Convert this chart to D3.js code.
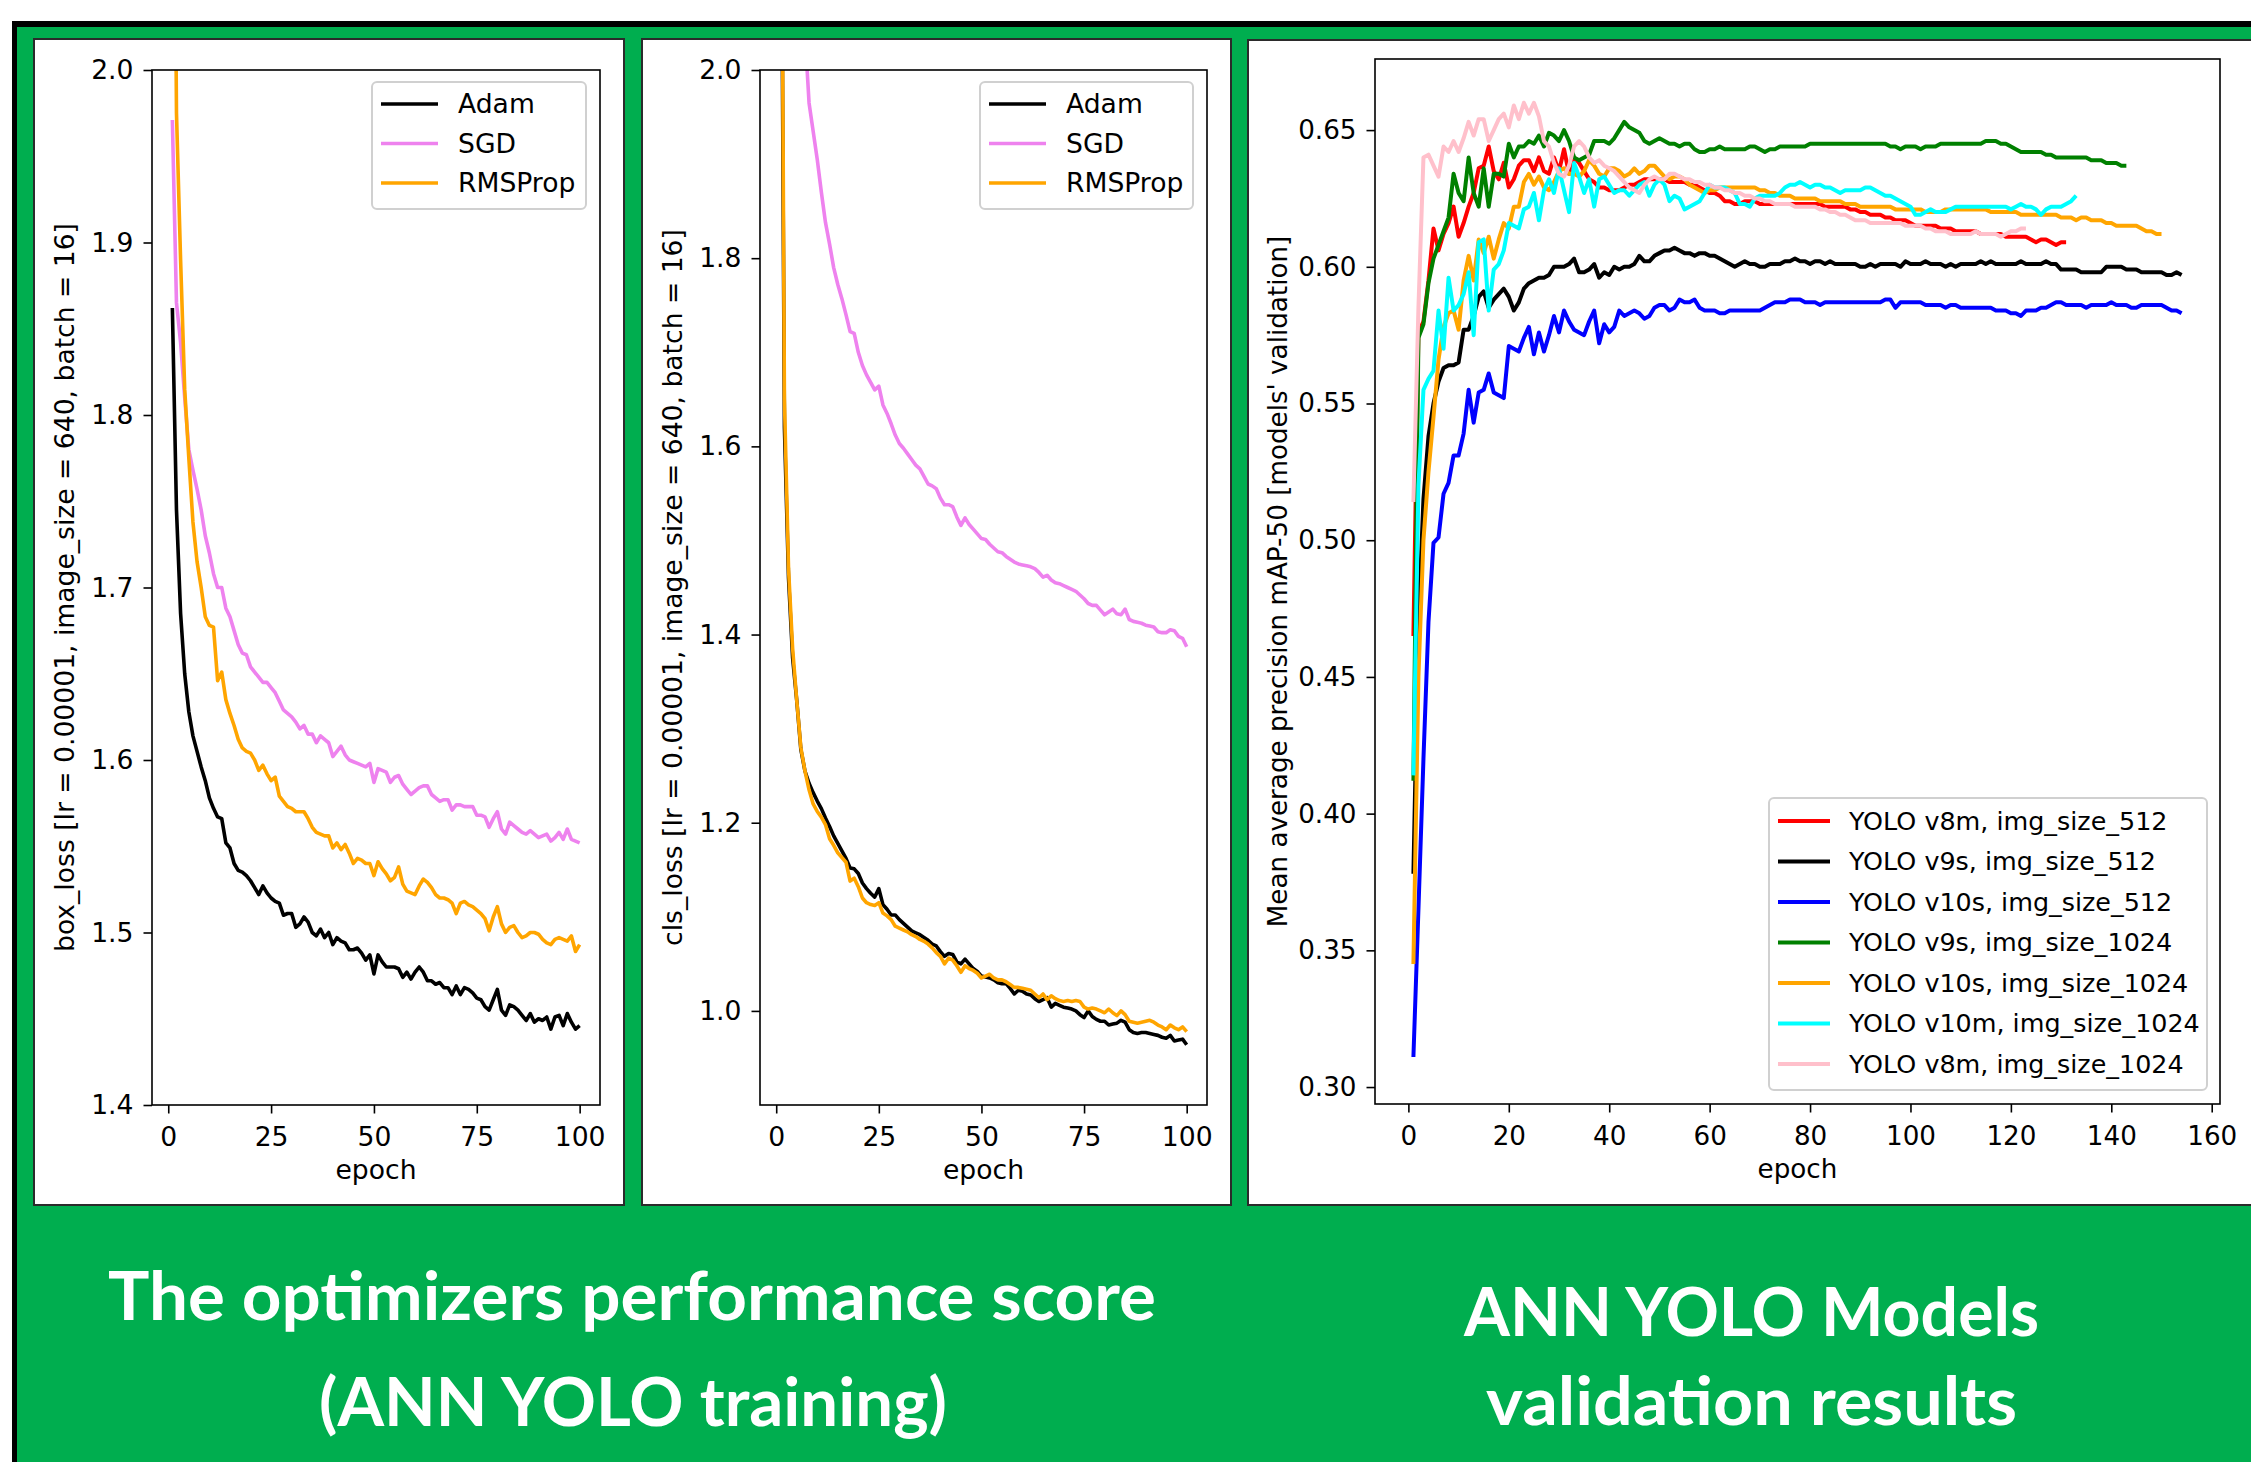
<!DOCTYPE html>

<head>
  <meta charset="utf-8">
  <title>Optimizers performance and YOLO validation</title>
  <style>
    body { margin: 0; background: #fff; }
    .line { fill: none; stroke-linejoin: round; }
    .title { font-family: Lato, 'Open Sans', sans-serif; font-weight: 700; fill: #fff; }
  </style>
</head>

<body>
  <div id="figure"></div>

  <script src="https://d3js.org/d3.v7.min.js"></script>

  <script>
    // optimizer runs, one value per epoch starting at epoch 1
    let optimizers = ['Adam', 'SGD', 'RMSProp'];
    let optColors = ['black', 'violet', 'orange'];

    let boxAdam = [1.862, 1.745, 1.685, 1.650, 1.628, 1.614, 1.605, 1.596, 1.588, 1.578,
      1.572, 1.567, 1.566, 1.552, 1.549, 1.540, 1.536, 1.535, 1.533, 1.530,
      1.526, 1.522, 1.527, 1.523, 1.520, 1.518, 1.517, 1.510, 1.511, 1.511,
      1.503, 1.505, 1.509, 1.506, 1.500, 1.498, 1.502, 1.497, 1.500, 1.493,
      1.497, 1.495, 1.494, 1.490, 1.490, 1.491, 1.488, 1.484, 1.487, 1.476,
      1.487, 1.483, 1.480, 1.480, 1.480, 1.479, 1.474, 1.477, 1.473, 1.477,
      1.480, 1.477, 1.472, 1.472, 1.470, 1.471, 1.468, 1.468, 1.464, 1.469,
      1.464, 1.468, 1.467, 1.465, 1.462, 1.461, 1.457, 1.455, 1.461, 1.467,
      1.455, 1.452, 1.458, 1.457, 1.455, 1.452, 1.449, 1.453, 1.448, 1.450,
      1.449, 1.451, 1.444, 1.451, 1.452, 1.446, 1.453, 1.448, 1.444, 1.446];
    let boxSgd = [1.971, 1.865, 1.842, 1.810, 1.780, 1.768, 1.757, 1.745, 1.730, 1.720,
      1.708, 1.700, 1.700, 1.688, 1.683, 1.675, 1.667, 1.662, 1.661, 1.654,
      1.651, 1.648, 1.645, 1.645, 1.642, 1.639, 1.634, 1.629, 1.627, 1.625,
      1.622, 1.618, 1.620, 1.615, 1.615, 1.610, 1.614, 1.612, 1.610, 1.602,
      1.605, 1.608, 1.603, 1.600, 1.599, 1.598, 1.597, 1.596, 1.598, 1.587,
      1.595, 1.594, 1.593, 1.587, 1.590, 1.591, 1.586, 1.583, 1.580, 1.582,
      1.584, 1.585, 1.585, 1.580, 1.578, 1.576, 1.577, 1.577, 1.571, 1.574,
      1.574, 1.573, 1.573, 1.573, 1.568, 1.568, 1.567, 1.561, 1.566, 1.570,
      1.560, 1.557, 1.564, 1.562, 1.560, 1.558, 1.557, 1.559, 1.557, 1.555,
      1.556, 1.557, 1.553, 1.555, 1.558, 1.554, 1.560, 1.554, 1.553, 1.552];
    let boxRms = [2.300, 1.975, 1.890, 1.815, 1.775, 1.738, 1.715, 1.700, 1.683, 1.678,
      1.677, 1.646, 1.651, 1.635, 1.627, 1.620, 1.612, 1.607, 1.605, 1.604,
      1.600, 1.594, 1.597, 1.592, 1.588, 1.590, 1.579, 1.576, 1.573, 1.572,
      1.570, 1.570, 1.570, 1.566, 1.561, 1.558, 1.557, 1.556, 1.556, 1.549,
      1.552, 1.548, 1.551, 1.546, 1.540, 1.543, 1.542, 1.540, 1.540, 1.533,
      1.541, 1.537, 1.534, 1.530, 1.532, 1.538, 1.528, 1.524, 1.523, 1.522,
      1.527, 1.531, 1.529, 1.526, 1.522, 1.520, 1.520, 1.519, 1.517, 1.511,
      1.517, 1.518, 1.516, 1.515, 1.513, 1.511, 1.508, 1.501, 1.509, 1.515,
      1.505, 1.500, 1.503, 1.504, 1.500, 1.497, 1.498, 1.500, 1.500, 1.499,
      1.496, 1.494, 1.493, 1.496, 1.497, 1.496, 1.495, 1.498, 1.489, 1.493];

    let clsAdam = [2.400, 1.620, 1.460, 1.375, 1.330, 1.278, 1.255, 1.242, 1.232, 1.223,
      1.215, 1.205, 1.196, 1.186, 1.178, 1.170, 1.162, 1.152, 1.151, 1.146,
      1.136, 1.130, 1.125, 1.121, 1.130, 1.113, 1.108, 1.102, 1.102, 1.097,
      1.093, 1.089, 1.085, 1.083, 1.081, 1.078, 1.075, 1.071, 1.069, 1.063,
      1.058, 1.061, 1.060, 1.052, 1.050, 1.055, 1.050, 1.045, 1.042, 1.037,
      1.036, 1.035, 1.033, 1.030, 1.029, 1.029, 1.024, 1.018, 1.022, 1.021,
      1.018, 1.017, 1.013, 1.010, 1.012, 1.014, 1.004, 1.008, 1.006, 1.004,
      1.003, 1.002, 1.000, 0.996, 0.993, 1.000, 0.994, 0.991, 0.989, 0.989,
      0.985, 0.986, 0.987, 0.990, 0.988, 0.980, 0.977, 0.976, 0.977, 0.977,
      0.976, 0.975, 0.974, 0.972, 0.971, 0.974, 0.968, 0.969, 0.970, 0.964];
    let clsSgd = [3.200, 2.800, 2.500, 2.320, 2.200, 2.110, 2.040, 1.965, 1.935, 1.905,
      1.870, 1.838, 1.815, 1.790, 1.772, 1.757, 1.740, 1.722, 1.720, 1.700,
      1.686, 1.676, 1.668, 1.660, 1.664, 1.644, 1.635, 1.624, 1.612, 1.603,
      1.598, 1.592, 1.586, 1.580, 1.576, 1.568, 1.560, 1.558, 1.555, 1.545,
      1.538, 1.538, 1.536, 1.525, 1.516, 1.524, 1.517, 1.512, 1.507, 1.502,
      1.501, 1.496, 1.492, 1.488, 1.487, 1.483, 1.480, 1.477, 1.475, 1.474,
      1.473, 1.472, 1.470, 1.466, 1.461, 1.463, 1.458, 1.455, 1.454, 1.452,
      1.450, 1.448, 1.446, 1.442, 1.438, 1.433, 1.431, 1.431, 1.426, 1.421,
      1.424, 1.427, 1.422, 1.421, 1.427, 1.416, 1.414, 1.413, 1.412, 1.410,
      1.409, 1.408, 1.403, 1.402, 1.402, 1.405, 1.404, 1.398, 1.396, 1.387];
    let clsRms = [2.500, 1.650, 1.470, 1.385, 1.330, 1.280, 1.255, 1.235, 1.220, 1.212,
      1.206, 1.198, 1.183, 1.176, 1.168, 1.163, 1.158, 1.138, 1.141, 1.132,
      1.120, 1.115, 1.113, 1.112, 1.115, 1.104, 1.101, 1.097, 1.090, 1.088,
      1.086, 1.084, 1.081, 1.079, 1.076, 1.074, 1.071, 1.067, 1.062, 1.058,
      1.050, 1.056, 1.054, 1.048, 1.041, 1.048, 1.045, 1.043, 1.040, 1.035,
      1.037, 1.039, 1.035, 1.033, 1.033, 1.031, 1.028, 1.025, 1.025, 1.024,
      1.023, 1.022, 1.018, 1.014, 1.018, 1.012, 1.016, 1.013, 1.011, 1.010,
      1.011, 1.010, 1.011, 1.010, 1.004, 1.002, 1.003, 1.002, 1.000, 0.998,
      1.002, 0.998, 0.995, 1.000, 0.996, 0.989, 0.988, 0.987, 0.988, 0.989,
      0.990, 0.988, 0.985, 0.983, 0.980, 0.985, 0.982, 0.980, 0.983, 0.978];

    // YOLO validation mAP-50, one value per epoch starting at epoch 1
    let models = ['YOLO v8m, img_size_512', 'YOLO v9s, img_size_512', 'YOLO v10s, img_size_512',
      'YOLO v9s, img_size_1024', 'YOLO v10s, img_size_1024', 'YOLO v10m, img_size_1024', 'YOLO v8m, img_size_1024'];
    let modelColors = ['red', 'black', 'blue', 'green', 'orange', 'cyan', 'pink'];

    let v8m512 = [0.465, 0.576, 0.580, 0.595, 0.614, 0.606, 0.612, 0.616, 0.622, 0.611,
      0.616, 0.622, 0.627, 0.636, 0.637, 0.644, 0.635, 0.632, 0.638, 0.629,
      0.632, 0.637, 0.639, 0.639, 0.635, 0.640, 0.635, 0.634, 0.640, 0.635,
      0.643, 0.634, 0.640, 0.638, 0.635, 0.632, 0.631, 0.629, 0.629, 0.628,
      0.628, 0.628, 0.629, 0.630, 0.630, 0.631, 0.632, 0.632, 0.632, 0.632,
      0.632, 0.631, 0.631, 0.631, 0.631, 0.630, 0.630, 0.629, 0.628, 0.627,
      0.627, 0.626, 0.624, 0.624, 0.623, 0.623, 0.624, 0.624, 0.624, 0.623,
      0.623, 0.623, 0.623, 0.623, 0.623, 0.623, 0.623, 0.623, 0.623, 0.623,
      0.623, 0.623, 0.622, 0.622, 0.622, 0.622, 0.622, 0.621, 0.621, 0.620,
      0.620, 0.619, 0.619, 0.619, 0.618, 0.618, 0.617, 0.617, 0.617, 0.616,
      0.615, 0.615, 0.615, 0.615, 0.615, 0.614, 0.614, 0.614, 0.613, 0.613,
      0.613, 0.613, 0.613, 0.612, 0.612, 0.612, 0.612, 0.612, 0.611, 0.611,
      0.611, 0.611, 0.611, 0.610, 0.609, 0.610, 0.610, 0.609, 0.608, 0.609,
      0.609];
    let v9s512 = [0.378, 0.470, 0.515, 0.538, 0.550, 0.558, 0.563, 0.564, 0.564, 0.565,
      0.577, 0.577, 0.582, 0.589, 0.591, 0.585, 0.588, 0.590, 0.592, 0.589,
      0.584, 0.587, 0.592, 0.594, 0.595, 0.596, 0.596, 0.597, 0.600, 0.600,
      0.600, 0.601, 0.603, 0.598, 0.598, 0.599, 0.601, 0.596, 0.598, 0.597,
      0.600, 0.599, 0.600, 0.600, 0.601, 0.604, 0.602, 0.602, 0.604, 0.605,
      0.606, 0.606, 0.607, 0.606, 0.605, 0.605, 0.604, 0.605, 0.605, 0.604,
      0.604, 0.603, 0.602, 0.601, 0.600, 0.601, 0.602, 0.601, 0.601, 0.600,
      0.600, 0.601, 0.601, 0.601, 0.602, 0.602, 0.603, 0.602, 0.602, 0.601,
      0.602, 0.602, 0.601, 0.602, 0.601, 0.601, 0.601, 0.601, 0.601, 0.600,
      0.600, 0.601, 0.600, 0.601, 0.601, 0.601, 0.601, 0.600, 0.602, 0.601,
      0.601, 0.601, 0.602, 0.601, 0.601, 0.601, 0.600, 0.601, 0.600, 0.601,
      0.601, 0.601, 0.601, 0.602, 0.601, 0.602, 0.601, 0.601, 0.601, 0.601,
      0.601, 0.602, 0.601, 0.601, 0.601, 0.601, 0.602, 0.601, 0.601, 0.599,
      0.599, 0.599, 0.599, 0.598, 0.598, 0.598, 0.598, 0.598, 0.600, 0.600,
      0.600, 0.600, 0.599, 0.599, 0.599, 0.598, 0.598, 0.598, 0.598, 0.598,
      0.597, 0.597, 0.598, 0.597];
    let v10s512 = [0.311, 0.365, 0.420, 0.470, 0.499, 0.501, 0.517, 0.521, 0.531, 0.531,
      0.539, 0.555, 0.543, 0.554, 0.555, 0.561, 0.554, 0.553, 0.552, 0.571,
      0.570, 0.569, 0.574, 0.578, 0.568, 0.576, 0.569, 0.575, 0.582, 0.576,
      0.584, 0.580, 0.577, 0.576, 0.575, 0.580, 0.584, 0.572, 0.579, 0.576,
      0.578, 0.584, 0.582, 0.583, 0.584, 0.583, 0.581, 0.582, 0.585, 0.586,
      0.586, 0.584, 0.585, 0.588, 0.587, 0.587, 0.588, 0.585, 0.584, 0.584,
      0.584, 0.583, 0.583, 0.584, 0.584, 0.584, 0.584, 0.584, 0.584, 0.584,
      0.585, 0.586, 0.587, 0.587, 0.587, 0.588, 0.588, 0.588, 0.587, 0.587,
      0.587, 0.586, 0.587, 0.587, 0.587, 0.587, 0.587, 0.587, 0.587, 0.587,
      0.587, 0.587, 0.587, 0.587, 0.588, 0.588, 0.585, 0.587, 0.587, 0.587,
      0.587, 0.587, 0.586, 0.586, 0.586, 0.586, 0.585, 0.586, 0.586, 0.585,
      0.585, 0.585, 0.585, 0.585, 0.585, 0.585, 0.584, 0.584, 0.584, 0.583,
      0.583, 0.582, 0.584, 0.584, 0.584, 0.585, 0.585, 0.586, 0.587, 0.587,
      0.586, 0.586, 0.586, 0.586, 0.585, 0.586, 0.586, 0.586, 0.586, 0.587,
      0.586, 0.586, 0.586, 0.585, 0.585, 0.586, 0.586, 0.586, 0.586, 0.586,
      0.585, 0.584, 0.584, 0.583];
    let v9s1024 = [0.412, 0.574, 0.579, 0.594, 0.603, 0.608, 0.613, 0.618, 0.634, 0.627,
      0.624, 0.640, 0.627, 0.622, 0.636, 0.622, 0.634, 0.634, 0.633, 0.645,
      0.640, 0.644, 0.644, 0.646, 0.645, 0.648, 0.644, 0.649, 0.648, 0.646,
      0.650, 0.646, 0.640, 0.639, 0.640, 0.641, 0.646, 0.646, 0.646, 0.645,
      0.647, 0.650, 0.653, 0.651, 0.650, 0.649, 0.646, 0.645, 0.646, 0.647,
      0.646, 0.645, 0.645, 0.644, 0.645, 0.645, 0.643, 0.642, 0.642, 0.643,
      0.643, 0.644, 0.643, 0.643, 0.643, 0.643, 0.643, 0.644, 0.644, 0.643,
      0.642, 0.643, 0.643, 0.644, 0.644, 0.644, 0.644, 0.644, 0.644, 0.645,
      0.645, 0.645, 0.645, 0.645, 0.645, 0.645, 0.645, 0.645, 0.645, 0.645,
      0.645, 0.645, 0.645, 0.645, 0.645, 0.644, 0.644, 0.643, 0.644, 0.644,
      0.644, 0.643, 0.644, 0.644, 0.644, 0.645, 0.645, 0.645, 0.645, 0.645,
      0.645, 0.645, 0.645, 0.645, 0.646, 0.646, 0.646, 0.645, 0.645, 0.644,
      0.643, 0.642, 0.642, 0.642, 0.642, 0.642, 0.641, 0.641, 0.640, 0.640,
      0.640, 0.640, 0.640, 0.640, 0.640, 0.639, 0.639, 0.639, 0.638, 0.638,
      0.638, 0.637, 0.637];
    let v10s1024 = [0.345, 0.450, 0.500, 0.525, 0.545, 0.566, 0.578, 0.583, 0.584, 0.577,
      0.595, 0.604, 0.595, 0.610, 0.605, 0.611, 0.603, 0.610, 0.616, 0.614,
      0.622, 0.622, 0.631, 0.634, 0.630, 0.633, 0.629, 0.628, 0.631, 0.635,
      0.636, 0.634, 0.634, 0.633, 0.635, 0.639, 0.637, 0.634, 0.633, 0.636,
      0.636, 0.635, 0.633, 0.634, 0.636, 0.634, 0.635, 0.637, 0.637, 0.635,
      0.633, 0.632, 0.633, 0.633, 0.632, 0.630, 0.629, 0.628, 0.627, 0.628,
      0.628, 0.629, 0.629, 0.629, 0.629, 0.629, 0.629, 0.629, 0.629, 0.628,
      0.628, 0.627, 0.627, 0.626, 0.626, 0.626, 0.625, 0.625, 0.625, 0.625,
      0.625, 0.624, 0.624, 0.624, 0.624, 0.624, 0.623, 0.623, 0.623, 0.622,
      0.622, 0.622, 0.622, 0.622, 0.622, 0.622, 0.621, 0.621, 0.621, 0.621,
      0.621, 0.621, 0.620, 0.620, 0.620, 0.620, 0.621, 0.621, 0.621, 0.621,
      0.621, 0.621, 0.621, 0.621, 0.621, 0.620, 0.620, 0.620, 0.620, 0.620,
      0.620, 0.619, 0.619, 0.619, 0.619, 0.619, 0.619, 0.619, 0.619, 0.618,
      0.618, 0.618, 0.617, 0.618, 0.618, 0.617, 0.617, 0.617, 0.616, 0.616,
      0.615, 0.615, 0.615, 0.615, 0.615, 0.614, 0.613, 0.613, 0.612, 0.612];
    let v10m1024 = [0.414, 0.520, 0.555, 0.559, 0.562, 0.584, 0.570, 0.596, 0.584, 0.586,
      0.590, 0.598, 0.575, 0.609, 0.610, 0.584, 0.599, 0.601, 0.606, 0.616,
      0.615, 0.614, 0.621, 0.622, 0.627, 0.617, 0.628, 0.632, 0.627, 0.636,
      0.628, 0.620, 0.638, 0.633, 0.627, 0.632, 0.622, 0.632, 0.633, 0.630,
      0.627, 0.628, 0.628, 0.626, 0.628, 0.630, 0.631, 0.626, 0.630, 0.632,
      0.630, 0.624, 0.626, 0.625, 0.621, 0.622, 0.623, 0.624, 0.627, 0.630,
      0.629, 0.629, 0.629, 0.628, 0.627, 0.623, 0.623, 0.622, 0.625, 0.626,
      0.626, 0.626, 0.626, 0.627, 0.629, 0.630, 0.630, 0.631, 0.630, 0.629,
      0.630, 0.630, 0.629, 0.629, 0.628, 0.627, 0.628, 0.628, 0.628, 0.628,
      0.629, 0.629, 0.628, 0.627, 0.626, 0.626, 0.625, 0.624, 0.623, 0.622,
      0.619, 0.619, 0.620, 0.621, 0.620, 0.620, 0.620, 0.621, 0.622, 0.622,
      0.622, 0.622, 0.622, 0.622, 0.622, 0.622, 0.622, 0.622, 0.622, 0.621,
      0.622, 0.623, 0.622, 0.622, 0.621, 0.619, 0.621, 0.622, 0.622, 0.622,
      0.623, 0.624, 0.626];
    let v8m1024 = [0.514, 0.585, 0.640, 0.641, 0.637, 0.633, 0.644, 0.642, 0.646, 0.642,
      0.647, 0.653, 0.648, 0.654, 0.654, 0.646, 0.650, 0.654, 0.656, 0.651,
      0.659, 0.654, 0.660, 0.656, 0.660, 0.655, 0.646, 0.644, 0.638, 0.634,
      0.633, 0.637, 0.644, 0.646, 0.644, 0.640, 0.638, 0.639, 0.637, 0.636,
      0.635, 0.633, 0.631, 0.629, 0.628, 0.627, 0.630, 0.632, 0.633, 0.632,
      0.632, 0.634, 0.634, 0.633, 0.632, 0.632, 0.631, 0.631, 0.630, 0.630,
      0.629, 0.629, 0.628, 0.628, 0.627, 0.627, 0.626, 0.626, 0.625, 0.625,
      0.624, 0.624, 0.623, 0.623, 0.623, 0.623, 0.622, 0.622, 0.622, 0.622,
      0.622, 0.621, 0.621, 0.620, 0.620, 0.619, 0.619, 0.618, 0.617, 0.617,
      0.617, 0.616, 0.616, 0.616, 0.616, 0.616, 0.616, 0.616, 0.615, 0.615,
      0.615, 0.615, 0.614, 0.614, 0.613, 0.613, 0.613, 0.612, 0.612, 0.612,
      0.612, 0.612, 0.613, 0.612, 0.612, 0.612, 0.612, 0.611, 0.612, 0.613,
      0.613, 0.614, 0.614];

    // tick labels
    let epochTicks = [0, 25, 50, 75, 100];
    let boxTicks = [1.4, 1.5, 1.6, 1.7, 1.8, 1.9, 2.0];
    let clsTicks = [1.0, 1.2, 1.4, 1.6, 1.8, 2.0];
    let mapEpochTicks = [0, 20, 40, 60, 80, 100, 120, 140, 160];
    let mapTicks = [0.30, 0.35, 0.40, 0.45, 0.50, 0.55, 0.60, 0.65];

    let W = 2251, H = 1462;
    let font = 'DejaVu Sans';

    let svg = d3.select('#figure')
      .append('svg')
      .attr('width', W)
      .attr('height', H);

    // black frame + green background
    svg.append('rect').attr('x', 12).attr('y', 21).attr('width', W).attr('height', H).attr('fill', '#000');
    svg.append('rect').attr('x', 17).attr('y', 27).attr('width', W).attr('height', H).attr('fill', '#00ae4f');

    // white panels
    [[34, 39, 590, 1166], [642, 39, 589, 1166], [1248, 40, 1020, 1165]].forEach(p => {
      svg.append('rect')
        .attr('x', p[0]).attr('y', p[1]).attr('width', p[2]).attr('height', p[3])
        .attr('fill', '#fff').attr('stroke', '#2b2b2b').attr('stroke-width', 2);
    });

    function drawChart(o) {
      let fs = o.fs;
      let x = d3.scaleLinear().domain(o.xDomain).range([o.left, o.right]);
      let y = d3.scaleLinear().domain(o.yDomain).range([o.bottom, o.top]);
      let g = svg.append('g');

      g.append('clipPath').attr('id', o.id)
        .append('rect')
        .attr('x', o.left).attr('y', o.top)
        .attr('width', o.right - o.left).attr('height', o.bottom - o.top);

      let line = d3.line()
        .x((d, i) => x(i + 1))
        .y(d => y(d));

      g.append('g')
        .attr('clip-path', `url(#${o.id})`)
        .selectAll('path')
        .data(o.series)
        .join('path')
        .attr('class', 'line')
        .attr('stroke', d => d.color)
        .attr('stroke-width', o.lw)
        .attr('d', d => line(d.values));

      // x axis
      g.append('g')
        .attr('transform', `translate(0, ${o.bottom})`)
        .call(d3.axisBottom(x).tickValues(o.xTicks).tickFormat(d3.format('d'))
          .tickSize(8.5).tickPadding(14).tickSizeOuter(0))
        .call(a => a.select('.domain').remove())
        .call(a => a.selectAll('line').attr('stroke', '#000').attr('stroke-width', 1.6))
        .call(a => a.selectAll('text').attr('font-size', fs).attr('font-family', font).attr('fill', '#000'));

      // y axis
      g.append('g')
        .attr('transform', `translate(${o.left}, 0)`)
        .call(d3.axisLeft(y).tickValues(o.yTicks).tickFormat(d3.format(o.yFormat))
          .tickSize(8.5).tickPadding(10).tickSizeOuter(0))
        .call(a => a.select('.domain').remove())
        .call(a => a.selectAll('line').attr('stroke', '#000').attr('stroke-width', 1.6))
        .call(a => a.selectAll('text').attr('font-size', fs).attr('font-family', font).attr('fill', '#000'));

      // frame
      g.append('rect')
        .attr('x', o.left).attr('y', o.top)
        .attr('width', o.right - o.left).attr('height', o.bottom - o.top)
        .attr('fill', 'none').attr('stroke', '#000').attr('stroke-width', 1.6);

      // axis labels
      g.append('text')
        .attr('x', (o.left + o.right) / 2).attr('y', o.bottom + 74)
        .attr('text-anchor', 'middle')
        .attr('font-family', font).attr('font-size', fs)
        .text('epoch');

      g.append('text')
        .attr('transform', `translate(${o.left - o.yLabelGap}, ${(o.top + o.bottom) / 2}) rotate(-90)`)
        .attr('text-anchor', 'middle')
        .attr('font-family', font).attr('font-size', fs)
        .text(o.yLabel);

      // legend
      let L = o.legend;
      g.append('rect')
        .attr('x', L.x).attr('y', L.y).attr('width', L.w).attr('height', L.h)
        .attr('rx', 5).attr('fill', '#fff').attr('fill-opacity', 0.8)
        .attr('stroke', '#d0d0d0').attr('stroke-width', 2);

      let items = g.selectAll('.item')
        .data(o.series)
        .join('g')
        .attr('transform', (d, i) => `translate(0, ${L.y0 + i * L.step})`);

      items.append('line')
        .attr('x1', L.lx1).attr('x2', L.lx2)
        .attr('stroke', d => d.color).attr('stroke-width', o.lw);

      items.append('text')
        .attr('x', L.tx).attr('dy', '0.35em')
        .attr('font-family', font).attr('font-size', L.fs)
        .text(d => d.name);
    }

    let optSeries = vals => vals.map((v, i) => ({ name: optimizers[i], color: optColors[i], values: v }));

    drawChart({
      id: 'clipBox', left: 152, right: 600, top: 70, bottom: 1105, fs: 26.6,
      xDomain: [-3.95, 104.95], yDomain: [1.4, 2.0],
      xTicks: epochTicks, yTicks: boxTicks, yFormat: '.1f', lw: 3.6,
      yLabel: 'box_loss [lr = 0.00001, image_size = 640, batch = 16]', yLabelGap: 78,
      series: optSeries([boxAdam, boxSgd, boxRms]),
      legend: { x: 372, y: 82, w: 214, h: 127, y0: 104, step: 39.5, lx1: 381, lx2: 438, tx: 458, fs: 26.6 }
    });

    drawChart({
      id: 'clipCls', left: 760, right: 1207, top: 70, bottom: 1105, fs: 26.6,
      xDomain: [-3.95, 104.95], yDomain: [0.9, 2.0],
      xTicks: epochTicks, yTicks: clsTicks, yFormat: '.1f', lw: 3.6,
      yLabel: 'cls_loss [lr = 0.00001, image_size = 640, batch = 16]', yLabelGap: 78,
      series: optSeries([clsAdam, clsSgd, clsRms]),
      legend: { x: 980, y: 82, w: 213, h: 127, y0: 104, step: 39.5, lx1: 989, lx2: 1046, tx: 1066, fs: 26.6 }
    });

    drawChart({
      id: 'clipMap', left: 1375, right: 2220, top: 59, bottom: 1104, fs: 26.2,
      xDomain: [-6.65, 161.65], yDomain: [0.2938, 0.676],
      xTicks: mapEpochTicks, yTicks: mapTicks, yFormat: '.2f', lw: 4,
      yLabel: "Mean average precision mAP-50 [models' validation]", yLabelGap: 88,
      series: [v8m512, v9s512, v10s512, v9s1024, v10s1024, v10m1024, v8m1024]
        .map((v, i) => ({ name: models[i], color: modelColors[i], values: v })),
      legend: { x: 1769, y: 798, w: 438, h: 292, y0: 821, step: 40.5, lx1: 1778, lx2: 1830, tx: 1849, fs: 25.4 }
    });

    // captions under the panels
    let captions = [
      { text: 'The optimizers performance score', x: 108, y: 1320, w: 1048 },
      { text: '(ANN YOLO training)', x: 319, y: 1426, w: 628 },
      { text: 'ANN YOLO Models', x: 1464, y: 1336, w: 575 },
      { text: 'validation results', x: 1486, y: 1425, w: 531 }
    ];

    svg.selectAll('.title')
      .data(captions)
      .join('text')
      .attr('class', 'title')
      .attr('x', d => d.x).attr('y', d => d.y)
      .attr('font-size', 66)
      .attr('textLength', d => d.w)
      .attr('lengthAdjust', 'spacingAndGlyphs')
      .text(d => d.text);
  </script>
</body>

</html>
